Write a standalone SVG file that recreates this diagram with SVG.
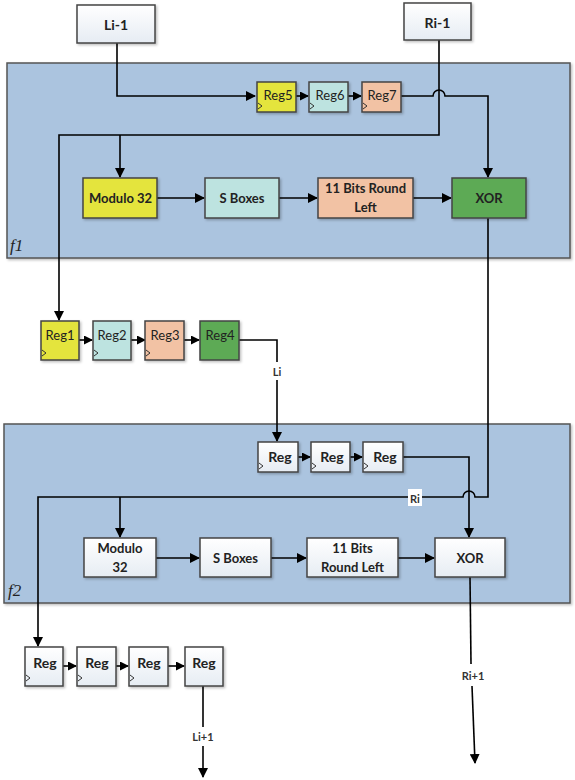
<svg xmlns="http://www.w3.org/2000/svg" width="575" height="780" viewBox="0 0 575 780">
<defs>
<marker id="ah" markerWidth="10" markerHeight="10" refX="9" refY="5" orient="auto" markerUnits="userSpaceOnUse">
<path d="M0,0 L10,5 L0,10 Z" fill="#000"/>
</marker>
<marker id="ahs" markerWidth="9" markerHeight="9" refX="8" refY="4.5" orient="auto" markerUnits="userSpaceOnUse">
<path d="M0,0 L9,4.5 L0,9 Z" fill="#000"/>
</marker>
<linearGradient id="wg" x1="0" y1="0" x2="0" y2="1">
<stop offset="0" stop-color="#ffffff"/>
<stop offset="1" stop-color="#e6ecf3"/>
</linearGradient>
<filter id="sh" x="-10%" y="-10%" width="130%" height="130%">
<feDropShadow dx="1.5" dy="1.5" stdDeviation="1" flood-color="#000" flood-opacity="0.25"/>
</filter>
</defs>
<style>
.panel{fill:#abc4df;stroke:#555;stroke-width:1.5;filter:url(#sh)}
.box{stroke:#444;stroke-width:1.5;filter:url(#sh)}
.w{fill:url(#wg)}
.y{fill:#e4e43c}
.c{fill:#bde3e0}
.s{fill:#f2c2a4}
.g{fill:#5daa55}
.t{font-family:Lato,"Liberation Sans",sans-serif;font-weight:700;font-size:13px;fill:#222;text-anchor:middle;dominant-baseline:central}
.r{font-weight:400;font-size:13px}
.tl{font-size:14px}
.lbl{font-family:Lato,"Liberation Sans",sans-serif;font-weight:700;font-size:11px;fill:#333;text-anchor:middle;dominant-baseline:central}
.fl{font-family:"Liberation Serif",serif;font-style:italic;font-size:17px;fill:#222}
.clk{fill:none;stroke:#333;stroke-width:1}
.ln{fill:none;stroke:#000;stroke-width:1.6}
</style>

<g id="panel-f1">
<rect class="panel" x="7" y="63" width="563" height="195"/>
<text class="fl" x="10" y="251">f1</text>
</g>
<g id="panel-f2">
<rect class="panel" x="4" y="424" width="566" height="179"/>
<text class="fl" x="8" y="596">f2</text>
</g>

<g id="connectors">
<!-- Li-1 to Reg5 -->
<path class="ln" d="M117,43 V96 H255" marker-end="url(#ah)"/>
<path class="ln" d="M296,96 H308" marker-end="url(#ahs)"/>
<path class="ln" d="M348,96 H361" marker-end="url(#ahs)"/>
<!-- Reg7 to XOR f1, hop over Ri-1 -->
<path class="ln" d="M401,96 H433 A6,6 0 0 1 445,96 H488 V177" marker-end="url(#ah)"/>
<!-- Ri-1 down and left -->
<path class="ln" d="M439,40 V135 H59 V320" marker-end="url(#ah)"/>
<path class="ln" d="M120,135 V177" marker-end="url(#ah)"/>
<!-- f1 chain -->
<path class="ln" d="M157,198 H204" marker-end="url(#ah)"/>
<path class="ln" d="M279,198 H317" marker-end="url(#ah)"/>
<path class="ln" d="M413,198 H451" marker-end="url(#ah)"/>
<!-- Reg1..Reg4 -->
<path class="ln" d="M79,340 H92" marker-end="url(#ahs)"/>
<path class="ln" d="M131,340 H145" marker-end="url(#ahs)"/>
<path class="ln" d="M184,340 H199" marker-end="url(#ahs)"/>
<!-- Reg4 to f2 Reg (Li) -->
<path class="ln" d="M239,340 H277 V362"/>
<path class="ln" d="M277,380 V441" marker-end="url(#ah)"/>
<!-- f2 top regs -->
<path class="ln" d="M298,457 H310" marker-end="url(#ahs)"/>
<path class="ln" d="M350,457 H362" marker-end="url(#ahs)"/>
<path class="ln" d="M403,457 H469 V537" marker-end="url(#ah)"/>
<!-- XOR f1 output down to Ri line in f2, hop over Reg->XOR -->
<path class="ln" d="M488,218 V497 H475 A6,6 0 0 0 463,497 H38 V646" marker-end="url(#ah)"/>
<path class="ln" d="M120,497 V537" marker-end="url(#ah)"/>
<!-- f2 chain -->
<path class="ln" d="M156,558 H199" marker-end="url(#ah)"/>
<path class="ln" d="M271,558 H306" marker-end="url(#ah)"/>
<path class="ln" d="M398,558 H434" marker-end="url(#ah)"/>
<!-- XOR f2 output Ri+1 -->
<path class="ln" d="M470,577 L471,664"/>
<path class="ln" d="M472,686 L475,763" marker-end="url(#ah)"/>
<!-- bottom regs -->
<path class="ln" d="M63,666 H76" marker-end="url(#ahs)"/>
<path class="ln" d="M116,666 H128" marker-end="url(#ahs)"/>
<path class="ln" d="M168,666 H184" marker-end="url(#ahs)"/>
<!-- Li+1 -->
<path class="ln" d="M203,686 V727"/>
<path class="ln" d="M203,746 V777" marker-end="url(#ah)"/>
</g>

<g id="Li-1">
<rect class="box w" x="77" y="5" width="78" height="38"/>
<text class="t tl" x="116" y="24">Li-1</text>
</g>
<g id="Ri-1">
<rect class="box w" x="404" y="3" width="67" height="37"/>
<text class="t tl" x="437.5" y="22">Ri-1</text>
</g>

<g id="Reg5">
<rect class="box y" x="257" y="82" width="39" height="30"/>
<path class="clk" d="M258,103 L262,106 L258,109"/>
<text class="t r" x="278" y="95">Reg5</text>
</g>
<g id="Reg6">
<rect class="box c" x="309" y="82" width="39" height="30"/>
<path class="clk" d="M310,103 L314,106 L310,109"/>
<text class="t r" x="330" y="95">Reg6</text>
</g>
<g id="Reg7">
<rect class="box s" x="362" y="82" width="39" height="30"/>
<path class="clk" d="M363,103 L367,106 L363,109"/>
<text class="t r" x="382" y="95">Reg7</text>
</g>

<g id="f1-Modulo32">
<rect class="box y" x="83" y="178" width="74" height="40"/>
<text class="t" x="120.5" y="198">Modulo 32</text>
</g>
<g id="f1-SBoxes">
<rect class="box c" x="205" y="178" width="74" height="40"/>
<text class="t" x="242" y="198">S Boxes</text>
</g>
<g id="f1-Rotate">
<rect class="box s" x="318" y="178" width="95" height="40"/>
<text class="t" x="365.5" y="188">11 Bits Round</text>
<text class="t" x="365.5" y="207">Left</text>
</g>
<g id="f1-XOR">
<rect class="box g" x="452" y="178" width="74" height="40"/>
<text class="t" x="489" y="198">XOR</text>
</g>

<g id="Reg1">
<rect class="box y" x="41" y="321" width="38" height="39"/>
<path class="clk" d="M42,350 L46,353 L42,356"/>
<text class="t r" x="60" y="335">Reg1</text>
</g>
<g id="Reg2">
<rect class="box c" x="93" y="321" width="38" height="39"/>
<path class="clk" d="M94,350 L98,353 L94,356"/>
<text class="t r" x="112" y="335">Reg2</text>
</g>
<g id="Reg3">
<rect class="box s" x="145" y="321" width="39" height="39"/>
<path class="clk" d="M146,350 L150,353 L146,356"/>
<text class="t r" x="165" y="335">Reg3</text>
</g>
<g id="Reg4">
<rect class="box g" x="200" y="321" width="39" height="39"/>
<text class="t r" x="220" y="335">Reg4</text>
</g>

<g id="label-Li">
<text class="lbl" x="277" y="371">Li</text>
</g>

<g id="f2-Reg-a">
<rect class="box w" x="258" y="442" width="40" height="30"/>
<path class="clk" d="M259,463 L263,466 L259,469"/>
<text class="t tl" x="280" y="456">Reg</text>
</g>
<g id="f2-Reg-b">
<rect class="box w" x="311" y="442" width="39" height="30"/>
<path class="clk" d="M312,463 L316,466 L312,469"/>
<text class="t tl" x="332" y="456">Reg</text>
</g>
<g id="f2-Reg-c">
<rect class="box w" x="363" y="442" width="40" height="30"/>
<path class="clk" d="M364,463 L368,466 L364,469"/>
<text class="t tl" x="385" y="456">Reg</text>
</g>

<g id="label-Ri">
<rect x="408" y="489" width="14" height="17" fill="#fff"/>
<text class="lbl" x="415" y="498">Ri</text>
</g>

<g id="f2-Modulo32">
<rect class="box w" x="84" y="538" width="72" height="39"/>
<text class="t" x="120" y="548">Modulo</text>
<text class="t" x="120" y="567">32</text>
</g>
<g id="f2-SBoxes">
<rect class="box w" x="200" y="538" width="71" height="39"/>
<text class="t" x="235.5" y="558">S Boxes</text>
</g>
<g id="f2-Rotate">
<rect class="box w" x="307" y="538" width="91" height="39"/>
<text class="t" x="352.5" y="548">11 Bits</text>
<text class="t" x="352.5" y="567">Round Left</text>
</g>
<g id="f2-XOR">
<rect class="box w" x="435" y="538" width="70" height="39"/>
<text class="t" x="470" y="558">XOR</text>
</g>

<g id="label-Ri+1">
<text class="lbl" x="473" y="675">Ri+1</text>
</g>

<g id="out-Reg-a">
<rect class="box w" x="25" y="647" width="38" height="39"/>
<path class="clk" d="M26,675 L30,678 L26,681"/>
<text class="t tl" x="45" y="662">Reg</text>
</g>
<g id="out-Reg-b">
<rect class="box w" x="77" y="647" width="39" height="39"/>
<path class="clk" d="M78,675 L82,678 L78,681"/>
<text class="t tl" x="97" y="662">Reg</text>
</g>
<g id="out-Reg-c">
<rect class="box w" x="129" y="647" width="39" height="39"/>
<path class="clk" d="M130,675 L134,678 L130,681"/>
<text class="t tl" x="149" y="662">Reg</text>
</g>
<g id="out-Reg-d">
<rect class="box w" x="185" y="647" width="38" height="39"/>
<text class="t tl" x="204" y="662">Reg</text>
</g>

<g id="label-Li+1">
<text class="lbl" x="203" y="736">Li+1</text>
</g>
</svg>
